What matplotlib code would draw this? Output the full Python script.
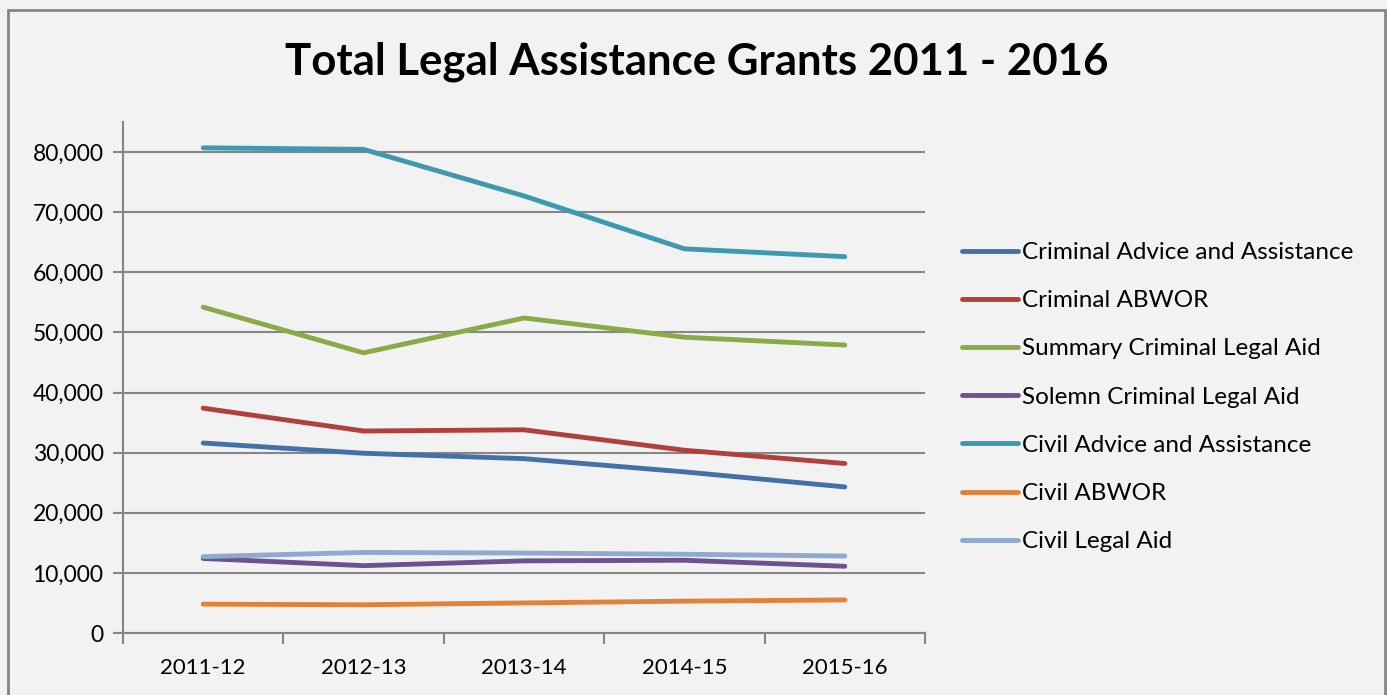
import numpy as np
import matplotlib
matplotlib.use('Agg')
import matplotlib.pyplot as plt
from matplotlib.patches import Rectangle
from matplotlib.ticker import FuncFormatter, FixedLocator

plt.rcParams['font.family'] = ['Lato', 'DejaVu Sans']

# data
years = ['2011-12', '2012-13', '2013-14', '2014-15', '2015-16']
criminal_aa = [31600, 29900, 29000, 26800, 24300]
criminal_abwor = [37400, 33600, 33800, 30400, 28200]
summary_cla = [54200, 46600, 52400, 49200, 47900]
solemn_cla = [12400, 11200, 12000, 12100, 11100]
civil_aa = [80700, 80450, 72700, 63900, 62600]
civil_abwor = [4800, 4700, 5000, 5300, 5500]
civil_la = [12700, 13400, 13300, 13100, 12800]

series = [
    ('Criminal Advice and Assistance', criminal_aa, '#4470a8'),
    ('Criminal ABWOR', criminal_abwor, '#b0403c'),
    ('Summary Criminal Legal Aid', summary_cla, '#8aaa48'),
    ('Solemn Criminal Legal Aid', solemn_cla, '#6c528f'),
    ('Civil Advice and Assistance', civil_aa, '#3d98b0'),
    ('Civil ABWOR', civil_abwor, '#e0823a'),
    ('Civil Legal Aid', civil_la, '#8fa9d0'),
]

bg = '#f2f2f2'
fig = plt.figure(figsize=(13.87, 6.95), dpi=100, facecolor=bg)
# outer chart border
fig.patches.append(Rectangle((8/1387, -0.05), (1385-8)/1387, 1.05 - 10/695,
                             transform=fig.transFigure, fill=False,
                             edgecolor='#868686', linewidth=2))

ax = fig.add_axes([123/1387, (695-633)/695, (925-123)/1387, (633-122)/695])
ax.set_facecolor(bg)

x = np.arange(len(years))
for name, vals, col in series:
    ax.plot(x, vals, color=col, linewidth=3.5, solid_capstyle='round',
            solid_joinstyle='round', label=name)

ax.set_xlim(-0.5, 4.5)
ax.set_ylim(0, 85000)
ax.set_yticks(np.arange(0, 80001, 10000))
ax.yaxis.set_major_formatter(FuncFormatter(lambda v, p: f'{int(v):,}'))
ax.grid(axis='y', color='#868686', linewidth=1.5)
ax.set_axisbelow(True)

ax.set_xticks(x)
ax.set_xticklabels(years)
ax.xaxis.set_minor_locator(FixedLocator(np.arange(-0.5, 4.6, 1)))
ax.tick_params(axis='x', which='major', length=0, pad=18, labelsize=16)
ax.tick_params(axis='x', which='minor', length=8, width=1.5, color='#868686', direction='out')
ax.tick_params(axis='y', length=7, width=1.5, color='#868686', labelsize=16.5, pad=7)

for s in ['top', 'right']:
    ax.spines[s].set_visible(False)
for s in ['left', 'bottom']:
    ax.spines[s].set_color('#868686')
    ax.spines[s].set_linewidth(1.5)

fig.text(697/1387, 1 - 62/695, 'Total Legal Assistance Grants 2011 - 2016',
         ha='center', va='center', fontsize=31.5, fontweight='bold')

leg = ax.legend(loc='upper left', bbox_to_anchor=(962/1387, 1 - 242/695),
                bbox_transform=fig.transFigure, frameon=False, fontsize=17.5,
                handlelength=2.3, handletextpad=0.17, labelspacing=1.12,
                borderaxespad=0, borderpad=0)

fig.savefig('out.png', dpi=100, facecolor=bg)
